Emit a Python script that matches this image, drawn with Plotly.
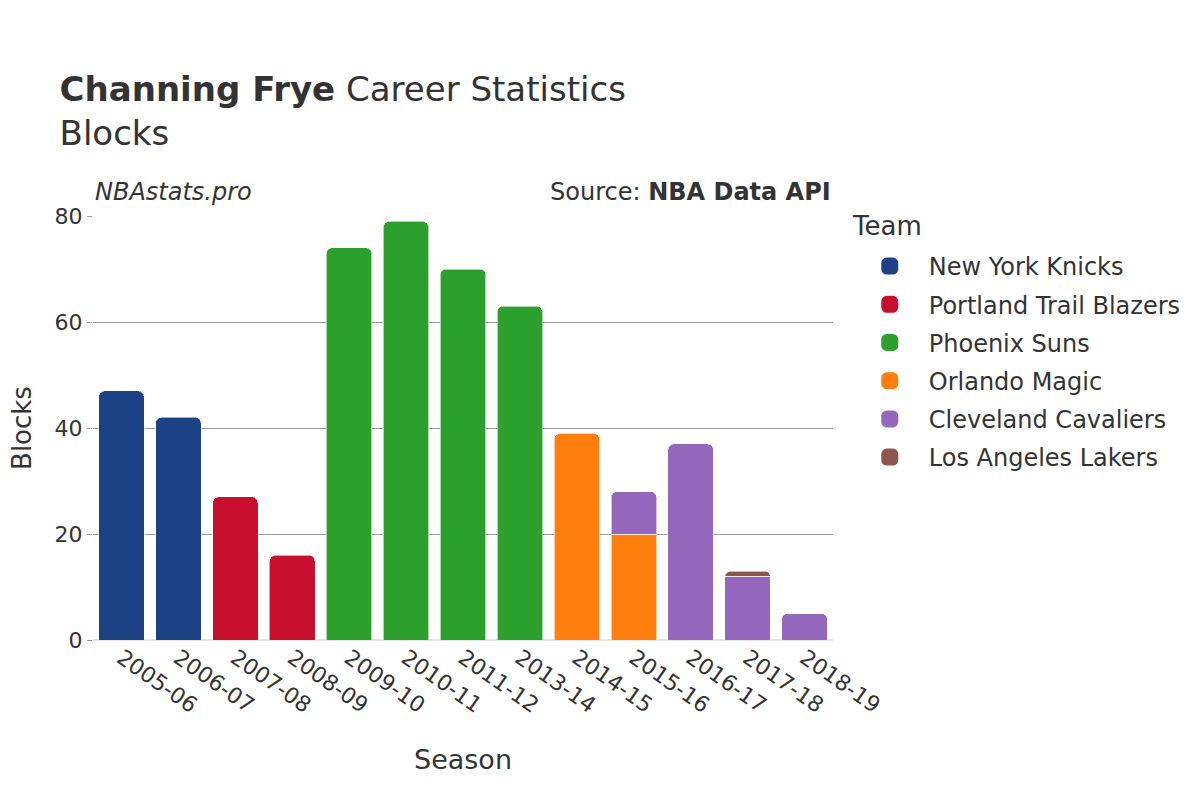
import plotly.graph_objects as go

seasons = ["2005-06", "2006-07", "2007-08", "2008-09", "2009-10", "2010-11", "2011-12",
           "2013-14", "2014-15", "2015-16", "2016-17", "2017-18", "2018-19"]

teams = ["New York Knicks", "Portland Trail Blazers", "Phoenix Suns", "Orlando Magic",
         "Cleveland Cavaliers", "Los Angeles Lakers"]
colors = ["#1d4185", "#c8102e", "#2ca02c", "#ff7f0e", "#9467bd", "#8c564b"]

knicks_seasons = ["2005-06", "2006-07"]
knicks_blocks = [47, 42]
blazers_seasons = ["2007-08", "2008-09"]
blazers_blocks = [27, 16]
suns_seasons = ["2009-10", "2010-11", "2011-12", "2013-14"]
suns_blocks = [74, 79, 70, 63]
magic_seasons = ["2014-15", "2015-16"]
magic_blocks = [39, 20]
cavs_seasons = ["2015-16", "2016-17", "2017-18", "2018-19"]
cavs_blocks = [8, 37, 12, 5]
lakers_seasons = ["2017-18"]
lakers_blocks = [1]

series = [
    (knicks_seasons, knicks_blocks),
    (blazers_seasons, blazers_blocks),
    (suns_seasons, suns_blocks),
    (magic_seasons, magic_blocks),
    (cavs_seasons, cavs_blocks),
    (lakers_seasons, lakers_blocks),
]

FONT = "DejaVu Sans"
fig = go.Figure()
for name, color, (x, y) in zip(teams, colors, series):
    fig.add_trace(go.Bar(
        x=x, y=y, name=name, legendgroup=name, showlegend=False,
        marker=dict(color=color, line=dict(color="rgba(255,255,255,0.6)", width=1)),
    ))
# legend-only entries with larger rounded swatches
for name, color in zip(teams, colors):
    fig.add_trace(go.Bar(
        x=[None], y=[None], name=name, legendgroup=name, showlegend=True,
        marker=dict(color=color, line=dict(color=color, width=11)),
        hoverinfo="skip",
    ))

fig.update_layout(
    width=1200, height=800,
    barmode="stack",
    barcornerradius=6,
    bargap=0.2,
    paper_bgcolor="white",
    plot_bgcolor="white",
    font=dict(family=FONT, color="#333333", size=22),
    margin=dict(l=85, r=375, t=208, b=168, autoexpand=False),
    title=dict(
        text="<b>Channing Frye</b> Career Statistics<br>Blocks",
        x=0.043, xanchor="left", y=0.884, yanchor="top",
        font=dict(family=FONT, size=34, color="#333333"),
    ),
    xaxis=dict(
        type="category",
        title=dict(text="Season", font=dict(size=27), standoff=33),
        categoryorder="array", categoryarray=seasons,
        tickangle=35, tickfont=dict(size=22),
        showgrid=False, showline=False, ticks="",
        automargin=False,
    ),
    yaxis=dict(
        range=[0, 80], tickvals=[0, 20, 40, 60, 80],
        showgrid=True, gridcolor="#999999", gridwidth=1,
        zeroline=True, zerolinecolor="#e5e5e5", zerolinewidth=2,
        tickfont=dict(size=22), ticks="outside", ticklen=5, tickcolor="#999999",
        automargin=False,
    ),
    legend=dict(
        x=1.024, xanchor="left", y=0.934, yanchor="top",
        font=dict(size=24), traceorder="grouped", tracegroupgap=4,
        itemwidth=68,
    ),
    annotations=[
        dict(text="<i>NBAstats.pro</i>", xref="paper", yref="paper", x=0.0, y=1.02,
             xanchor="left", yanchor="bottom", showarrow=False, font=dict(size=24, color="#333333")),
        dict(text="Source: <b>NBA Data API</b>", xref="paper", yref="paper", x=1.0, y=1.02,
             xanchor="right", yanchor="bottom", showarrow=False, font=dict(size=24, color="#333333")),
        dict(text="Team", xref="paper", yref="paper", x=1.023, y=0.976,
             xanchor="left", yanchor="middle", showarrow=False, font=dict(size=26, color="#333333")),
        dict(text="Blocks", xref="paper", yref="paper", x=-0.096, y=0.5, textangle=-90,
             xanchor="center", yanchor="middle", showarrow=False, font=dict(size=26, color="#333333")),
    ],
)

fig.write_html("out.html")
